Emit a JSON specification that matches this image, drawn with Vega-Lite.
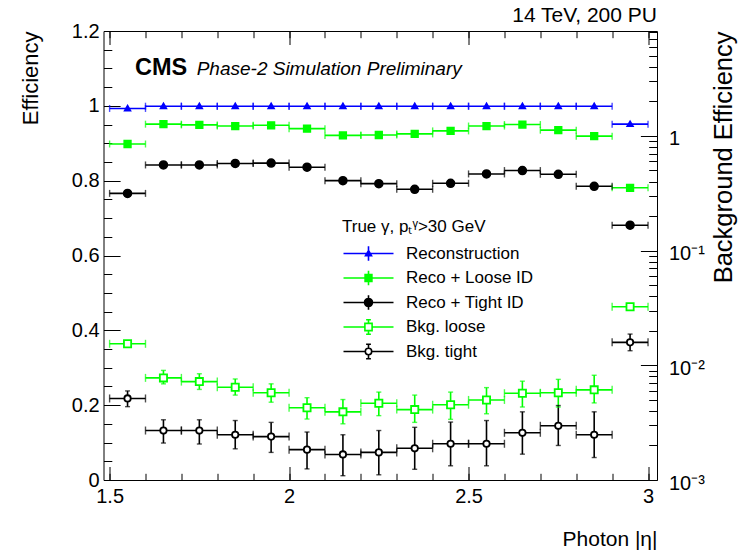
{
  "$schema": "https://vega.github.io/schema/vega-lite/v6.json",
  "width": 553.5,
  "height": 449,
  "autosize": {"type": "none"},
  "padding": {"left": 103.5, "top": 31, "right": 91, "bottom": 75},
  "background": "white",
  "title": {"text": "14 TeV, 200 PU", "anchor": "end", "frame": "group", "font": "Liberation Sans", "fontSize": 21, "fontWeight": "normal", "color": "black", "baseline": "alphabetic", "offset": 8, "dy": 30},
  "config": {
    "view": {"stroke": "black", "strokeWidth": 1},
    "font": "Liberation Sans",
    "legend": {"symbolBaseFillColor": "white"},
    "axis": {"grid": false, "domain": false, "tickColor": "black", "tickWidth": 1, "labelColor": "black", "titleColor": "black", "labelFont": "Liberation Sans", "titleFont": "Liberation Sans", "labelFontSize": 20, "titleFontWeight": "normal"}
  },
  "datasets": {
    "eff": [
      {"series": "Reconstruction", "eta": 1.55, "x0": 1.5, "x1": 1.6, "y": 0.993},
      {"series": "Reconstruction", "eta": 1.65, "x0": 1.6, "x1": 1.7, "y": 0.999},
      {"series": "Reconstruction", "eta": 1.75, "x0": 1.7, "x1": 1.8, "y": 0.999},
      {"series": "Reconstruction", "eta": 1.85, "x0": 1.8, "x1": 1.9, "y": 0.999},
      {"series": "Reconstruction", "eta": 1.95, "x0": 1.9, "x1": 2.0, "y": 0.999},
      {"series": "Reconstruction", "eta": 2.05, "x0": 2.0, "x1": 2.1, "y": 0.999},
      {"series": "Reconstruction", "eta": 2.15, "x0": 2.1, "x1": 2.2, "y": 0.999},
      {"series": "Reconstruction", "eta": 2.25, "x0": 2.2, "x1": 2.3, "y": 0.999},
      {"series": "Reconstruction", "eta": 2.35, "x0": 2.3, "x1": 2.4, "y": 0.999},
      {"series": "Reconstruction", "eta": 2.45, "x0": 2.4, "x1": 2.5, "y": 0.999},
      {"series": "Reconstruction", "eta": 2.55, "x0": 2.5, "x1": 2.6, "y": 0.999},
      {"series": "Reconstruction", "eta": 2.65, "x0": 2.6, "x1": 2.7, "y": 0.999},
      {"series": "Reconstruction", "eta": 2.75, "x0": 2.7, "x1": 2.8, "y": 0.999},
      {"series": "Reconstruction", "eta": 2.85, "x0": 2.8, "x1": 2.9, "y": 0.999},
      {"series": "Reconstruction", "eta": 2.95, "x0": 2.9, "x1": 3.0, "y": 0.951},
      {"series": "Reco + Loose ID", "eta": 1.55, "x0": 1.5, "x1": 1.6, "y": 0.898},
      {"series": "Reco + Loose ID", "eta": 1.65, "x0": 1.6, "x1": 1.7, "y": 0.951},
      {"series": "Reco + Loose ID", "eta": 1.75, "x0": 1.7, "x1": 1.8, "y": 0.949},
      {"series": "Reco + Loose ID", "eta": 1.85, "x0": 1.8, "x1": 1.9, "y": 0.946},
      {"series": "Reco + Loose ID", "eta": 1.95, "x0": 1.9, "x1": 2.0, "y": 0.948},
      {"series": "Reco + Loose ID", "eta": 2.05, "x0": 2.0, "x1": 2.1, "y": 0.939},
      {"series": "Reco + Loose ID", "eta": 2.15, "x0": 2.1, "x1": 2.2, "y": 0.921},
      {"series": "Reco + Loose ID", "eta": 2.25, "x0": 2.2, "x1": 2.3, "y": 0.922},
      {"series": "Reco + Loose ID", "eta": 2.35, "x0": 2.3, "x1": 2.4, "y": 0.925},
      {"series": "Reco + Loose ID", "eta": 2.45, "x0": 2.4, "x1": 2.5, "y": 0.933},
      {"series": "Reco + Loose ID", "eta": 2.55, "x0": 2.5, "x1": 2.6, "y": 0.946},
      {"series": "Reco + Loose ID", "eta": 2.65, "x0": 2.6, "x1": 2.7, "y": 0.950},
      {"series": "Reco + Loose ID", "eta": 2.75, "x0": 2.7, "x1": 2.8, "y": 0.935},
      {"series": "Reco + Loose ID", "eta": 2.85, "x0": 2.8, "x1": 2.9, "y": 0.919},
      {"series": "Reco + Loose ID", "eta": 2.95, "x0": 2.9, "x1": 3.0, "y": 0.781},
      {"series": "Reco + Tight ID", "eta": 1.55, "x0": 1.5, "x1": 1.6, "y": 0.766},
      {"series": "Reco + Tight ID", "eta": 1.65, "x0": 1.6, "x1": 1.7, "y": 0.842},
      {"series": "Reco + Tight ID", "eta": 1.75, "x0": 1.7, "x1": 1.8, "y": 0.842},
      {"series": "Reco + Tight ID", "eta": 1.85, "x0": 1.8, "x1": 1.9, "y": 0.846},
      {"series": "Reco + Tight ID", "eta": 1.95, "x0": 1.9, "x1": 2.0, "y": 0.847},
      {"series": "Reco + Tight ID", "eta": 2.05, "x0": 2.0, "x1": 2.1, "y": 0.836},
      {"series": "Reco + Tight ID", "eta": 2.15, "x0": 2.1, "x1": 2.2, "y": 0.800},
      {"series": "Reco + Tight ID", "eta": 2.25, "x0": 2.2, "x1": 2.3, "y": 0.792},
      {"series": "Reco + Tight ID", "eta": 2.35, "x0": 2.3, "x1": 2.4, "y": 0.777},
      {"series": "Reco + Tight ID", "eta": 2.45, "x0": 2.4, "x1": 2.5, "y": 0.793},
      {"series": "Reco + Tight ID", "eta": 2.55, "x0": 2.5, "x1": 2.6, "y": 0.818},
      {"series": "Reco + Tight ID", "eta": 2.65, "x0": 2.6, "x1": 2.7, "y": 0.827},
      {"series": "Reco + Tight ID", "eta": 2.75, "x0": 2.7, "x1": 2.8, "y": 0.817},
      {"series": "Reco + Tight ID", "eta": 2.85, "x0": 2.8, "x1": 2.9, "y": 0.785},
      {"series": "Reco + Tight ID", "eta": 2.95, "x0": 2.9, "x1": 3.0, "y": 0.681}
    ],
    "bkg": [
      {"series": "Bkg. loose", "eta": 1.55, "x0": 1.5, "x1": 1.6, "y": 0.0154, "ylo": null, "yhi": null},
      {"series": "Bkg. loose", "eta": 1.65, "x0": 1.6, "x1": 1.7, "y": 0.00777, "ylo": 0.00689, "yhi": 0.00903},
      {"series": "Bkg. loose", "eta": 1.75, "x0": 1.7, "x1": 1.8, "y": 0.00721, "ylo": 0.00616, "yhi": 0.00844},
      {"series": "Bkg. loose", "eta": 1.85, "x0": 1.8, "x1": 1.9, "y": 0.00644, "ylo": 0.00550, "yhi": 0.00760},
      {"series": "Bkg. loose", "eta": 1.95, "x0": 1.9, "x1": 2.0, "y": 0.00576, "ylo": 0.00477, "yhi": 0.00689},
      {"series": "Bkg. loose", "eta": 2.05, "x0": 2.0, "x1": 2.1, "y": 0.00426, "ylo": 0.00340, "yhi": 0.00522},
      {"series": "Bkg. loose", "eta": 2.15, "x0": 2.1, "x1": 2.2, "y": 0.00393, "ylo": 0.00309, "yhi": 0.00503},
      {"series": "Bkg. loose", "eta": 2.25, "x0": 2.2, "x1": 2.3, "y": 0.00467, "ylo": 0.00364, "yhi": 0.00584},
      {"series": "Bkg. loose", "eta": 2.35, "x0": 2.3, "x1": 2.4, "y": 0.00411, "ylo": 0.00318, "yhi": 0.00550},
      {"series": "Bkg. loose", "eta": 2.45, "x0": 2.4, "x1": 2.5, "y": 0.00453, "ylo": 0.00338, "yhi": 0.00584},
      {"series": "Bkg. loose", "eta": 2.55, "x0": 2.5, "x1": 2.6, "y": 0.00499, "ylo": 0.00378, "yhi": 0.00639},
      {"series": "Bkg. loose", "eta": 2.65, "x0": 2.6, "x1": 2.7, "y": 0.00571, "ylo": 0.00433, "yhi": 0.00727},
      {"series": "Bkg. loose", "eta": 2.75, "x0": 2.7, "x1": 2.8, "y": 0.00576, "ylo": 0.00433, "yhi": 0.00754},
      {"series": "Bkg. loose", "eta": 2.85, "x0": 2.8, "x1": 2.9, "y": 0.00611, "ylo": 0.00470, "yhi": 0.00819},
      {"series": "Bkg. loose", "eta": 2.95, "x0": 2.9, "x1": 3.0, "y": 0.0324, "ylo": null, "yhi": null},
      {"series": "Bkg. tight", "eta": 1.55, "x0": 1.5, "x1": 1.6, "y": 0.00514, "ylo": 0.00436, "yhi": 0.00598},
      {"series": "Bkg. tight", "eta": 1.65, "x0": 1.6, "x1": 1.7, "y": 0.00270, "ylo": 0.00210, "yhi": 0.00335},
      {"series": "Bkg. tight", "eta": 1.75, "x0": 1.7, "x1": 1.8, "y": 0.00270, "ylo": 0.00206, "yhi": 0.00335},
      {"series": "Bkg. tight", "eta": 1.85, "x0": 1.8, "x1": 1.9, "y": 0.00248, "ylo": 0.00187, "yhi": 0.00330},
      {"series": "Bkg. tight", "eta": 1.95, "x0": 1.9, "x1": 2.0, "y": 0.00239, "ylo": 0.00174, "yhi": 0.00318},
      {"series": "Bkg. tight", "eta": 2.05, "x0": 2.0, "x1": 2.1, "y": 0.00184, "ylo": 0.00125, "yhi": 0.00262},
      {"series": "Bkg. tight", "eta": 2.15, "x0": 2.1, "x1": 2.2, "y": 0.00167, "ylo": 0.00109, "yhi": 0.00248},
      {"series": "Bkg. tight", "eta": 2.25, "x0": 2.2, "x1": 2.3, "y": 0.00174, "ylo": 0.00111, "yhi": 0.00270},
      {"series": "Bkg. tight", "eta": 2.35, "x0": 2.3, "x1": 2.4, "y": 0.00189, "ylo": 0.00124, "yhi": 0.00288},
      {"series": "Bkg. tight", "eta": 2.45, "x0": 2.4, "x1": 2.5, "y": 0.00207, "ylo": 0.00133, "yhi": 0.00320},
      {"series": "Bkg. tight", "eta": 2.55, "x0": 2.5, "x1": 2.6, "y": 0.00207, "ylo": 0.00133, "yhi": 0.00330},
      {"series": "Bkg. tight", "eta": 2.65, "x0": 2.6, "x1": 2.7, "y": 0.00258, "ylo": 0.00168, "yhi": 0.00393},
      {"series": "Bkg. tight", "eta": 2.75, "x0": 2.7, "x1": 2.8, "y": 0.00297, "ylo": 0.00200, "yhi": 0.00446},
      {"series": "Bkg. tight", "eta": 2.85, "x0": 2.8, "x1": 2.9, "y": 0.00248, "ylo": 0.00157, "yhi": 0.00393},
      {"series": "Bkg. tight", "eta": 2.95, "x0": 2.9, "x1": 3.0, "y": 0.01585, "ylo": 0.01340, "yhi": 0.01872}
    ]
  },
  "resolve": {
    "scale": {"y": "independent", "shape": "independent"},
    "axis": {"x": "independent", "y": "independent"},
    "legend": {"stroke": "independent", "fill": "independent", "shape": "independent", "color": "independent"}
  },
  "layer": [
    {
      "data": {"name": "eff"},
      "mark": {"type": "rule", "strokeWidth": 1.6},
      "encoding": {
        "x": {"field": "x0", "type": "quantitative", "scale": {"domain": [1.483, 3.025], "nice": false, "zero": false},
          "axis": {"orient": "bottom", "values": [1.5, 2, 2.5, 3], "tickSize": -13.5, "labelExpr": "datum.value + ''", "labelPadding": 20, "labelFontSize": 20,
            "title": "Photon |η|", "titleFontSize": 21, "titleX": 553.5, "titleY": 65, "titleAlign": "right", "titleBaseline": "alphabetic"}},
        "x2": {"field": "x1"},
        "y": {"field": "y", "type": "quantitative", "scale": {"domain": [0, 1.2], "nice": false, "zero": false},
          "axis": {"orient": "left", "values": [0, 0.2, 0.4, 0.6, 0.8, 1, 1.2], "tickSize": -16.6, "labelExpr": "datum.value + ''", "labelPadding": 21, "labelFontSize": 20,
            "title": "Efficiency", "titleFontSize": 22, "titleAngle": -90, "titleX": -66.5, "titleY": 0, "titleAlign": "right", "titleBaseline": "alphabetic"}},
        "stroke": {"field": "series", "type": "nominal",
          "scale": {"domain": ["Reconstruction", "Reco + Loose ID", "Reco + Tight ID", "Bkg. loose", "Bkg. tight"], "range": ["#0000ff", "#00ff00", "#000000", "#00ff00", "#000000"]},
          "legend": null}
      }
    },
    {
      "data": {"name": "eff"},
      "transform": [{"fold": ["x0", "x1"], "as": ["edge", "xe"]}],
      "mark": {"type": "tick", "orient": "vertical", "size": 7, "thickness": 1.4},
      "encoding": {
        "x": {"field": "xe", "type": "quantitative", "scale": {"domain": [1.483, 3.025], "nice": false, "zero": false},
          "axis": {"orient": "bottom", "values": [1.5, 1.6, 1.7, 1.8, 1.9, 2.0, 2.1, 2.2, 2.3, 2.4, 2.5, 2.6, 2.7, 2.8, 2.9, 3.0], "tickSize": -6.7, "labels": false, "title": null}},
        "y": {"field": "y", "type": "quantitative", "scale": {"domain": [0, 1.2], "nice": false, "zero": false},
          "axis": {"orient": "left", "values": [0.05, 0.1, 0.15, 0.25, 0.3, 0.35, 0.45, 0.5, 0.55, 0.65, 0.7, 0.75, 0.85, 0.9, 0.95, 1.05, 1.1, 1.15], "tickSize": -8.3, "labels": false, "title": null}},
        "color": {"field": "series", "type": "nominal",
          "scale": {"domain": ["Reconstruction", "Reco + Loose ID", "Reco + Tight ID", "Bkg. loose", "Bkg. tight"], "range": ["#0000ff", "#00ff00", "#000000", "#00ff00", "#000000"]},
          "legend": null}
      }
    },
    {
      "data": {"name": "bkg"},
      "mark": {"type": "rule", "strokeWidth": 1.6},
      "encoding": {
        "x": {"field": "x0", "type": "quantitative", "scale": {"domain": [1.483, 3.025], "nice": false, "zero": false},
          "axis": {"orient": "top", "values": [1.5, 2, 2.5, 3], "tickSize": -13.5, "labels": false, "title": null}},
        "x2": {"field": "x1"},
        "y": {"field": "y", "type": "quantitative", "scale": {"type": "log", "domain": [0.001, 8.22], "nice": false, "zero": false},
          "axis": {"orient": "right", "values": [0.001, 0.01, 0.1, 1], "tickSize": -16.6, "labelPadding": 28, "labelFontSize": 20, "labelAlign": "left", "labelOffset": 3,
            "labelExpr": "datum.value == 1 ? '1' : datum.value == 0.1 ? '10⁻¹' : datum.value == 0.01 ? '10⁻²' : '10⁻³'",
            "title": "Background Efficiency", "titleFontSize": 25.5, "titleAngle": -90, "titleX": 74.5, "titleY": 0, "titleAlign": "right", "titleBaseline": "alphabetic"}},
        "stroke": {"field": "series", "type": "nominal",
          "scale": {"domain": ["Reconstruction", "Reco + Loose ID", "Reco + Tight ID", "Bkg. loose", "Bkg. tight"], "range": ["#0000ff", "#00ff00", "#000000", "#00ff00", "#000000"]},
          "legend": null}
      }
    },
    {
      "data": {"name": "bkg"},
      "transform": [{"fold": ["x0", "x1"], "as": ["edge", "xe"]}],
      "mark": {"type": "tick", "orient": "vertical", "size": 8, "thickness": 1.4},
      "encoding": {
        "x": {"field": "xe", "type": "quantitative", "scale": {"domain": [1.483, 3.025], "nice": false, "zero": false},
          "axis": {"orient": "top", "values": [1.5, 1.6, 1.7, 1.8, 1.9, 2.0, 2.1, 2.2, 2.3, 2.4, 2.5, 2.6, 2.7, 2.8, 2.9, 3.0], "tickSize": -6.7, "labels": false, "title": null}},
        "y": {"field": "y", "type": "quantitative", "scale": {"type": "log", "domain": [0.001, 8.22], "nice": false, "zero": false},
          "axis": {"orient": "right", "values": [0.002, 0.003, 0.004, 0.005, 0.006, 0.007, 0.008, 0.009, 0.02, 0.03, 0.04, 0.05, 0.06, 0.07, 0.08, 0.09, 0.2, 0.3, 0.4, 0.5, 0.6, 0.7, 0.8, 0.9, 2, 3, 4, 5, 6, 7, 8], "tickSize": -8.3, "labels": false, "title": null}},
        "color": {"field": "series", "type": "nominal",
          "scale": {"domain": ["Reconstruction", "Reco + Loose ID", "Reco + Tight ID", "Bkg. loose", "Bkg. tight"], "range": ["#0000ff", "#00ff00", "#000000", "#00ff00", "#000000"]},
          "legend": null}
      }
    },
    {
      "data": {"name": "bkg"},
      "transform": [{"filter": "isValid(datum.ylo)"}],
      "mark": {"type": "rule", "strokeWidth": 1.6},
      "encoding": {
        "x": {"field": "eta", "type": "quantitative", "scale": {"domain": [1.483, 3.025], "nice": false, "zero": false}, "axis": null},
        "y": {"field": "ylo", "type": "quantitative", "scale": {"type": "log", "domain": [0.001, 8.22], "nice": false, "zero": false}, "axis": null},
        "y2": {"field": "yhi"},
        "stroke": {"field": "series", "type": "nominal",
          "scale": {"domain": ["Reconstruction", "Reco + Loose ID", "Reco + Tight ID", "Bkg. loose", "Bkg. tight"], "range": ["#0000ff", "#00ff00", "#000000", "#00ff00", "#000000"]},
          "legend": null}
      }
    },
    {
      "data": {"name": "bkg"},
      "transform": [{"filter": "isValid(datum.ylo)"}, {"fold": ["ylo", "yhi"], "as": ["end", "ye"]}],
      "mark": {"type": "tick", "orient": "horizontal", "size": 5, "thickness": 1.4},
      "encoding": {
        "x": {"field": "eta", "type": "quantitative", "scale": {"domain": [1.483, 3.025], "nice": false, "zero": false}, "axis": null},
        "y": {"field": "ye", "type": "quantitative", "scale": {"type": "log", "domain": [0.001, 8.22], "nice": false, "zero": false}, "axis": null},
        "color": {"field": "series", "type": "nominal",
          "scale": {"domain": ["Reconstruction", "Reco + Loose ID", "Reco + Tight ID", "Bkg. loose", "Bkg. tight"], "range": ["#0000ff", "#00ff00", "#000000", "#00ff00", "#000000"]},
          "legend": null}
      }
    },
    {
      "data": {"name": "eff"},
      "mark": {"type": "point", "size": 64, "strokeWidth": 1.5, "opacity": 1},
      "encoding": {
        "x": {"field": "eta", "type": "quantitative", "scale": {"domain": [1.483, 3.025], "nice": false, "zero": false}, "axis": null},
        "y": {"field": "y", "type": "quantitative", "scale": {"domain": [0, 1.2], "nice": false, "zero": false}, "axis": null},
        "shape": {"field": "series", "type": "nominal",
          "scale": {"domain": ["Reconstruction", "Reco + Loose ID", "Reco + Tight ID", "Bkg. loose", "Bkg. tight"],
            "range": ["M0,-0.75L0.75,0.55L-0.75,0.55Z", "M-0.85,-0.85H0.85V0.85H-0.85Z", "circle", "M-0.9,-0.9H0.9V0.9H-0.9Z", "M0.8,0A0.8,0.8,0,1,1,-0.8,0A0.8,0.8,0,1,1,0.8,0Z"]},
          "legend": null},
        "fill": {"field": "series", "type": "nominal",
          "scale": {"domain": ["Reconstruction", "Reco + Loose ID", "Reco + Tight ID", "Bkg. loose", "Bkg. tight"], "range": ["#0000ff", "#00ff00", "#000000", "#ffffff", "#ffffff"]}, "legend": null},
        "stroke": {"field": "series", "type": "nominal",
          "scale": {"domain": ["Reconstruction", "Reco + Loose ID", "Reco + Tight ID", "Bkg. loose", "Bkg. tight"], "range": ["#0000ff", "#00ff00", "#000000", "#00ff00", "#000000"]}, "legend": null}
      }
    },
    {
      "data": {"name": "bkg"},
      "mark": {"type": "point", "size": 64, "strokeWidth": 1.8, "opacity": 1},
      "encoding": {
        "x": {"field": "eta", "type": "quantitative", "scale": {"domain": [1.483, 3.025], "nice": false, "zero": false}, "axis": null},
        "y": {"field": "y", "type": "quantitative", "scale": {"type": "log", "domain": [0.001, 8.22], "nice": false, "zero": false}, "axis": null},
        "shape": {"field": "series", "type": "nominal",
          "scale": {"domain": ["Reconstruction", "Reco + Loose ID", "Reco + Tight ID", "Bkg. loose", "Bkg. tight"],
            "range": ["M0,-0.75L0.75,0.55L-0.75,0.55Z", "M-0.85,-0.85H0.85V0.85H-0.85Z", "circle", "M-0.9,-0.9H0.9V0.9H-0.9Z", "M0.8,0A0.8,0.8,0,1,1,-0.8,0A0.8,0.8,0,1,1,0.8,0Z"]},
          "legend": null},
        "fill": {"field": "series", "type": "nominal",
          "scale": {"domain": ["Reconstruction", "Reco + Loose ID", "Reco + Tight ID", "Bkg. loose", "Bkg. tight"], "range": ["#0000ff", "#00ff00", "#000000", "#ffffff", "#ffffff"]}, "legend": null},
        "stroke": {"field": "series", "type": "nominal",
          "scale": {"domain": ["Reconstruction", "Reco + Loose ID", "Reco + Tight ID", "Bkg. loose", "Bkg. tight"], "range": ["#0000ff", "#00ff00", "#000000", "#00ff00", "#000000"]}, "legend": null}
      }
    },
    {
      "data": {"name": "eff"},
      "mark": {"type": "point", "size": 64, "strokeWidth": 1.5, "opacity": 0, "filled": true},
      "encoding": {
        "x": {"field": "eta", "type": "quantitative", "scale": {"domain": [1.483, 3.025], "nice": false, "zero": false}, "axis": null},
        "y": {"field": "y", "type": "quantitative", "scale": {"domain": [0, 1.2], "nice": false, "zero": false}, "axis": null},
        "shape": {"field": "series", "type": "nominal",
          "scale": {"domain": ["Reconstruction", "Reco + Loose ID", "Reco + Tight ID", "Bkg. loose", "Bkg. tight"],
            "range": [
              "M-6.25,0H6.25M0,-1.8V1.8M0,-0.75L0.75,0.55L-0.75,0.55ZM-0.55,0.35H0.55M-0.3,-0.25H0.3",
              "M-6.25,0H6.25M0,-1.8V1.8M-0.85,-0.85H0.85V0.85H-0.85ZM-0.85,-0.6H0.85M-0.85,-0.3H0.85M-0.85,0.3H0.85M-0.85,0.6H0.85",
              "M-6.25,0H6.25M0,-1.8V1.8M1,0A1,1,0,1,1,-1,0A1,1,0,1,1,1,0ZM-0.95,-0.3H0.95M-0.95,0.3H0.95M-0.8,-0.6H0.8M-0.8,0.6H0.8M-0.5,-0.85H0.5M-0.5,0.85H0.5",
              "M-6.25,0H-0.9M0.9,0H6.25M0,-0.9V-1.8M0,0.9V1.8M-0.6,-1.8H0.6M-0.6,1.8H0.6M-0.9,-0.9H0.9V0.9H-0.9Z",
              "M-6.25,0H-0.8M0.8,0H6.25M0,-0.8V-1.8M0,0.8V1.8M-0.6,-1.8H0.6M-0.6,1.8H0.6M0.8,0A0.8,0.8,0,1,1,-0.8,0A0.8,0.8,0,1,1,0.8,0Z"
            ]}},
        "fill": {"field": "series", "type": "nominal",
          "scale": {"domain": ["Reconstruction", "Reco + Loose ID", "Reco + Tight ID", "Bkg. loose", "Bkg. tight"], "range": ["#0000ff", "#00ff00", "#000000", "#ffffff", "#ffffff"]},
          "legend": {"orient": "none", "legendX": 238.5, "legendY": 188, "padding": 0, "title": "True γ, pₜᵞ>30 GeV", "titleFont": "Liberation Sans", "titleFontSize": 17, "titleFontWeight": "normal", "titleColor": "black", "titlePadding": 9,
            "labelFont": "Liberation Sans", "labelFontSize": 17, "labelColor": "black", "labelOffset": 29, "labelLimit": 300, "symbolOffset": 18, "symbolSize": 64, "symbolStrokeWidth": 1.6, "rowPadding": 3.5}},
        "stroke": {"field": "series", "type": "nominal",
          "scale": {"domain": ["Reconstruction", "Reco + Loose ID", "Reco + Tight ID", "Bkg. loose", "Bkg. tight"], "range": ["#0000ff", "#00ff00", "#000000", "#00ff00", "#000000"]}}
      }
    },
    {
      "data": {"values": [{}]},
      "mark": {"type": "text", "text": "CMS", "font": "Liberation Sans", "fontSize": 23.5, "fontWeight": "bold", "align": "left", "baseline": "alphabetic", "color": "black"},
      "encoding": {
        "x": {"datum": 1.5707, "type": "quantitative", "axis": null},
        "y": {"datum": 1.0823, "type": "quantitative", "scale": {"domain": [0, 1.2], "nice": false, "zero": false}, "axis": null}
      }
    },
    {
      "data": {"values": [{}]},
      "mark": {"type": "text", "text": "Phase-2 Simulation Preliminary", "font": "Liberation Sans", "fontSize": 19, "fontStyle": "italic", "align": "left", "baseline": "alphabetic", "color": "black"},
      "encoding": {
        "x": {"datum": 1.7426, "type": "quantitative", "axis": null},
        "y": {"datum": 1.0823, "type": "quantitative", "scale": {"domain": [0, 1.2], "nice": false, "zero": false}, "axis": null}
      }
    }
  ]
}
